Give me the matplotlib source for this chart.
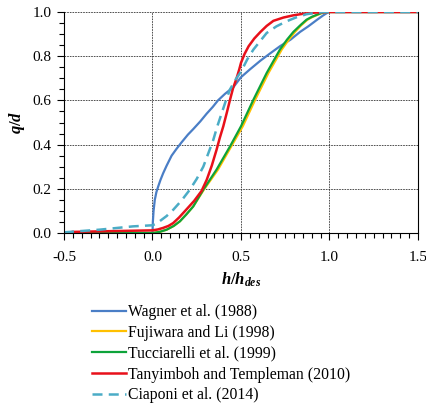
import numpy as np
import matplotlib.pyplot as plt
from matplotlib.ticker import MultipleLocator

# Curvas q/d frente a h/hdes
wagner_x = [-0.5, 0.0, 0.0, 0.002, 0.006, 0.013, 0.022, 0.032, 0.045, 0.06, 0.08, 0.108,
            0.135, 0.164, 0.2, 0.23, 0.27, 0.306, 0.34, 0.37, 0.41, 0.457, 0.5, 0.55,
            0.61, 0.66, 0.72, 0.78, 0.834, 0.88, 0.93, 0.965, 0.995, 1.5]
wagner_y = [0.0, 0.0, 0.0, 0.05, 0.1, 0.15, 0.185, 0.21, 0.24, 0.27, 0.305, 0.35,
            0.38, 0.41, 0.445, 0.47, 0.505, 0.54, 0.57, 0.60, 0.63, 0.66, 0.705, 0.74,
            0.78, 0.81, 0.845, 0.875, 0.91, 0.935, 0.965, 0.985, 1.0, 1.0]

fujiwara_x = [-0.5, 0.0, 0.04, 0.08, 0.12, 0.155, 0.19, 0.23, 0.29, 0.37, 0.445, 0.51,
              0.58, 0.655, 0.73, 0.77, 0.805, 0.84, 0.875, 0.905, 0.935, 0.96, 0.98, 1.5]
fujiwara_y = [0.0, 0.0, 0.005, 0.015, 0.032, 0.053, 0.083, 0.12, 0.196, 0.287, 0.392, 0.483,
              0.603, 0.724, 0.83, 0.875, 0.91, 0.94, 0.965, 0.978, 0.988, 0.996, 1.0, 1.0]

tucciarelli_x = [-0.5, 0.0, 0.04, 0.08, 0.12, 0.155, 0.19, 0.23, 0.287, 0.362, 0.438, 0.5,
                 0.57, 0.645, 0.72, 0.76, 0.796, 0.835, 0.87, 0.9, 0.93, 0.955, 0.975, 1.5]
tucciarelli_y = [0.0, 0.0, 0.005, 0.015, 0.032, 0.053, 0.083, 0.12, 0.196, 0.287, 0.392, 0.483,
                 0.603, 0.724, 0.83, 0.875, 0.91, 0.94, 0.965, 0.978, 0.988, 0.996, 1.0, 1.0]

tanyimboh_x = [-0.45, 0.0, 0.03, 0.06, 0.09, 0.117, 0.15, 0.19, 0.235, 0.277, 0.306, 0.335,
               0.362, 0.38, 0.4, 0.42, 0.438, 0.455, 0.475, 0.49, 0.5, 0.52, 0.543, 0.575,
               0.61, 0.645, 0.683, 0.74, 0.796, 0.86, 0.93, 1.0, 1.5]
tanyimboh_y = [0.005, 0.012, 0.016, 0.023, 0.032, 0.045, 0.07, 0.105, 0.145, 0.19, 0.24, 0.305,
               0.377, 0.43, 0.483, 0.545, 0.603, 0.655, 0.70, 0.74, 0.77, 0.81, 0.845, 0.88,
               0.91, 0.937, 0.96, 0.975, 0.985, 0.993, 0.998, 1.0, 1.0]

ciaponi_x = [-0.5, -0.3, -0.11, 0.0, 0.02, 0.04, 0.08, 0.117, 0.165, 0.211, 0.25, 0.287,
             0.315, 0.343, 0.365, 0.39, 0.415, 0.438, 0.47, 0.5, 0.535, 0.57, 0.61, 0.645,
             0.7, 0.758, 0.81, 0.87, 0.92, 0.966, 1.5]
ciaponi_y = [0.003, 0.015, 0.03, 0.035, 0.042, 0.053, 0.077, 0.105, 0.148, 0.196, 0.245, 0.30,
             0.36, 0.42, 0.48, 0.54, 0.60, 0.65, 0.695, 0.73, 0.785, 0.83, 0.87, 0.905,
             0.935, 0.958, 0.975, 0.99, 0.996, 1.0, 1.0]

plt.rcParams['font.family'] = ['Liberation Serif', 'DejaVu Serif']
plt.rcParams['mathtext.fontset'] = 'custom'
plt.rcParams['mathtext.it'] = 'Liberation Serif:italic:bold'
plt.rcParams['mathtext.rm'] = 'Liberation Serif:bold'

fig = plt.figure(figsize=(4.27, 4.05), dpi=100)
ax = fig.add_axes([64 / 427, 1 - 233 / 405, 354 / 427, 221 / 405])

ax.plot(wagner_x, wagner_y, color='#4A7EC6', lw=1.6, label='Wagner et al. (1988)')
ax.plot(fujiwara_x, fujiwara_y, color='#FFC000', lw=1.6, label='Fujiwara and Li (1998)')
ax.plot(tucciarelli_x, tucciarelli_y, color='#0DA33A', lw=1.6, label='Tucciarelli et al. (1999)')
ax.plot(tanyimboh_x, tanyimboh_y, color='#E8101A', lw=1.8, label='Tanyimboh and Templeman (2010)')
ax.plot(ciaponi_x, ciaponi_y, color='#4BACC6', lw=1.8, ls=(0, (4, 2.5)), label='Ciaponi et al. (2014)')

ax.set_xlim(-0.5, 1.5)
ax.set_ylim(0, 1.0)
ax.xaxis.set_major_locator(MultipleLocator(0.5))
ax.xaxis.set_minor_locator(MultipleLocator(0.05))
ax.yaxis.set_major_locator(MultipleLocator(0.2))
ax.yaxis.set_minor_locator(MultipleLocator(0.05))
ax.xaxis.set_major_formatter(lambda v, p: f'{v:.1f}')
ax.yaxis.set_major_formatter(lambda v, p: f'{v:.1f}')
ax.tick_params(which='major', direction='out', length=5, width=0.8, labelsize=11, pad=8)
ax.tick_params(which='minor', direction='out', length=3.5, width=0.8)
ax.tick_params(axis='y', pad=4)
ax.grid(True, which='major', color='#333333', ls=(0, (2, 1.2)), lw=0.6)
ax.spines['top'].set_visible(False)
for s in ['left', 'bottom', 'right']:
    ax.spines[s].set_linewidth(0.8)

ax.set_xlabel(r'$h/h_{des}$', fontsize=12, labelpad=5)
ax.set_ylabel(r'$q/d$', fontsize=12, labelpad=4)

fig.legend(loc='upper left', bbox_to_anchor=(92 / 427, 1 - 304 / 405), frameon=False,
           fontsize=11.3, handlelength=2.15, handletextpad=0.15, labelspacing=0.31,
           borderpad=0, borderaxespad=0)

fig.savefig('out.png', dpi=100)
